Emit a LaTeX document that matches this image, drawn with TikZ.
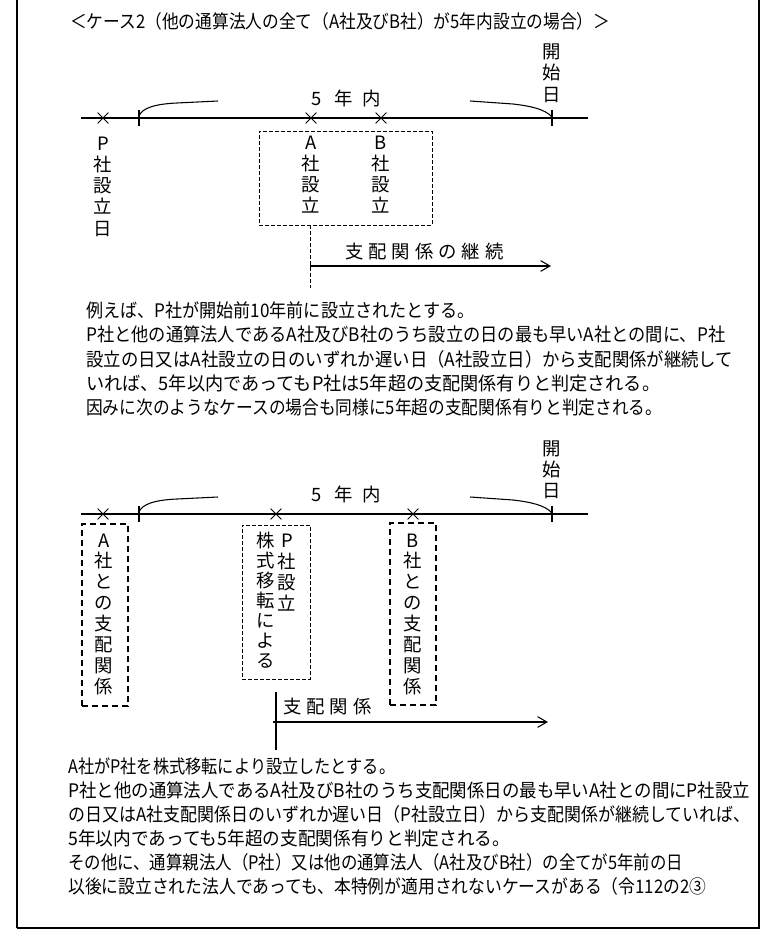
\documentclass[tikz,border=0pt]{standalone}
\usepackage{fontspec}
\setmainfont{Noto Sans CJK JP}
\usetikzlibrary{arrows.meta,shapes.misc}
\newlength\px
\setlength\px{0.75pt}
\newcommand\fitline[2]{\resizebox{#1}{\height}{#2}}
\newcommand\gp{\hspace{3.7pt}}
\begin{document}
\begin{tikzpicture}[x=0.75pt,y=-0.75pt,
  txt/.style={inner sep=0pt, anchor=west, text height=0.88em, text depth=0.12em, font=\fontsize{14pt}{16pt}\selectfont},
  vch/.style={inner sep=0pt, text height=0.88em, text depth=0.12em, font=\fontsize{13.8pt}{16pt}\selectfont},
  xmark/.style={cross out, draw, line width=0.6pt, minimum size=7.5pt, inner sep=0pt},
  thinbox/.style={draw, line width=0.75pt, dash pattern=on 3pt off 1.5pt, inner sep=0pt},
  thickbox/.style={draw, line width=1.7pt, dash pattern=on 4.5pt off 3pt, inner sep=0pt},
  thindash/.style={line width=0.75pt, dash pattern=on 3pt off 1.5pt},
  axis/.style={line width=0.8pt},
  arr/.style={line width=0.8pt, -{Straight Barb[length=7pt,width=8pt,line width=0.8pt]}},
]
\useasboundingbox (0,0) rectangle (778,942);
\fill[white] (0,0) rectangle (778,942);

% frame
\draw[line width=0.9pt] (17,0) -- (17,928);
\draw[line width=1.6pt] (17,928) -- (759,928) -- (759,0);

% title
\node[txt] (title) at (70,23) {\fitline{405pt}{＜ケース2（他の通算法人の全て（A社及びB社）が5年内設立の場合）＞}};

% ===== diagram 1 =====
\coordinate (t1a) at (81,118);
\coordinate (t1b) at (588,118);
\draw[axis] (t1a) -- (t1b);
\draw[axis] (139,110) -- (139,126);
\draw[axis] (552,110) -- (552,126);
\draw[axis] (139,116) .. controls (142,108) and (155,104) .. (177,103) -- (218,101);
\draw[axis] (470,101) -- (513,104) .. controls (530,106) and (545,109) .. (552,117);

\node[vch] (fa1) at (317,100) {5};
\node[vch] (fb1) at (344,100) {年};
\node[vch] (fc1) at (372,100) {内};

\foreach \c [count=\i] in {開,始,日}
  \node[vch] (ks\i) at (552,{53+(\i-1)*21.5}) {\c};

\node[xmark] (x1p) at (103,118) {};
\node[xmark] (x1a) at (311,118) {};
\node[xmark] (x1b) at (381,118) {};

\foreach \c [count=\i] in {P,社,設,立,日}
  \node[vch] (pd\i) at (103,{145+(\i-1)*21.3}) {\c};

\node[thinbox, minimum width=129.75pt, minimum height=70.5pt] (abbox) at (345.5,178) {};
\foreach \c [count=\i] in {A,社,設,立}
  \node[vch] (ad\i) at (311,{144+(\i-1)*21.3}) {\c};
\foreach \c [count=\i] in {B,社,設,立}
  \node[vch] (bd\i) at (381,{144+(\i-1)*21.3}) {\c};

\coordinate (d1s) at (310,225);
\coordinate (d1e) at (310,288);
\draw[thindash] (d1s) -- (d1e);
\coordinate (a1s) at (310,266);
\coordinate (a1e) at (551,266);
\draw[arr] (a1s) -- (a1e);
\node[vch, anchor=west] (rel1) at (345,253) {支\gp 配\gp 関\gp 係\gp の\gp 継\gp 続};

% paragraph 1
\node[txt] (p1l1) at (86,312) {\fitline{291pt}{例えば、P社が開始前10年前に設立されたとする。}};
\node[txt] (p1l2) at (86,336) {\fitline{479.25pt}{P社と他の通算法人であるA社及びB社のうち設立の日の最も早いA社との間に、P社}};
\node[txt] (p1l3) at (86,361) {\fitline{485.25pt}{設立の日又はA社設立の日のいずれか遅い日（A社設立日）から支配関係が継続して}};
\node[txt] (p1l4) at (86,385) {\fitline{430.5pt}{いれば、5年以内であってもP社は5年超の支配関係有りと判定される。}};
\node[txt] (p1l5) at (86,409) {\fitline{432pt}{因みに次のようなケースの場合も同様に5年超の支配関係有りと判定される。}};

% ===== diagram 2 =====
\coordinate (t2a) at (81,514);
\coordinate (t2b) at (588,514);
\draw[axis] (t2a) -- (t2b);
\draw[axis] (139,506) -- (139,522);
\draw[axis] (552,506) -- (552,522);
\draw[axis] (139,512) .. controls (142,504) and (155,500) .. (177,499) -- (218,497);
\draw[axis] (470,497) -- (513,500) .. controls (530,502) and (545,505) .. (552,513);

\node[vch] (fa2) at (317,496) {5};
\node[vch] (fb2) at (344,496) {年};
\node[vch] (fc2) at (372,496) {内};

\foreach \c [count=\i] in {開,始,日}
  \node[vch] (kt\i) at (552,{450+(\i-1)*21.2}) {\c};

\node[xmark] (x2a) at (103,514) {};
\node[xmark] (x2p) at (276,514) {};
\node[xmark] (x2b) at (413,514) {};

\node[thickbox, minimum width=34.5pt, minimum height=136.5pt] (abox2) at (105,615) {};
\foreach \c [count=\i] in {A,社,と,の,支,配,関,係}
  \node[vch] (ar\i) at (104,{542+(\i-1)*20.9}) {\c};

\node[thickbox, minimum width=34.5pt, minimum height=136.5pt] (bbox2) at (413,614) {};
\foreach \c [count=\i] in {B,社,と,の,支,配,関,係}
  \node[vch] (br\i) at (413,{542+(\i-1)*20.9}) {\c};

\node[thinbox, minimum width=51pt, minimum height=115.5pt] (pbox2) at (276,602) {};
\foreach \c [count=\i] in {株,式,移,転,に,よ,る}
  \node[vch] (kb\i) at (266,{542+(\i-1)*20}) {\c};
\foreach \c [count=\i] in {P,社,設,立}
  \node[vch] (ps\i) at (287,{542+(\i-1)*21.3}) {\c};

\coordinate (v2s) at (276,692);
\coordinate (v2e) at (276,750);
\draw[axis] (v2s) -- (v2e);
\coordinate (a2s) at (273,722);
\coordinate (a2e) at (548,722);
\draw[arr] (a2s) -- (a2e);
\node[vch, anchor=west] (rel2) at (283,708) {支\gp 配\gp 関\gp 係};

% paragraph 2
\node[txt] (p2l1) at (68,768) {\fitline{245.25pt}{A社がP社を株式移転により設立したとする。}};
\node[txt] (p2l2) at (68,792) {\fitline{511.5pt}{P社と他の通算法人であるA社及びB社のうち支配関係日の最も早いA社との間にP社設立}};
\node[txt] (p2l3) at (68,816) {\fitline{511.5pt}{の日又はA社支配関係日のいずれか遅い日（P社設立日）から支配関係が継続していれば、}};
\node[txt] (p2l4) at (68,840) {\fitline{331.5pt}{5年以内であっても5年超の支配関係有りと判定される。}};
\node[txt] (p2l5) at (68,864) {\fitline{461.25pt}{その他に、通算親法人（P社）又は他の通算法人（A社及びB社）の全てが5年前の日}};
\node[txt] (p2l6) at (68,888) {\fitline{478.5pt}{以後に設立された法人であっても、本特例が適用されないケースがある（令112の2③}};
\end{tikzpicture}
\end{document}
